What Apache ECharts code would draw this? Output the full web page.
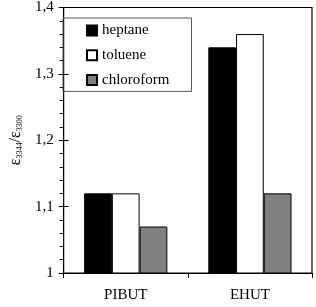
<!DOCTYPE html>
<html>
<head>
<meta charset="utf-8">
<script src="https://cdn.jsdelivr.net/npm/echarts@6/dist/echarts.min.js"></script>
<style>
  html, body { margin: 0; padding: 0; background: #fff; }
  #chart { width: 316px; height: 307px; }
</style>
</head>
<body>
<div id="chart"></div>
<script>
const categories = ['PIBUT', 'EHUT']
const heptane = [1.12, 1.34]
const toluene = [1.12, 1.36]
const chloroform = [1.07, 1.12]
const seriesNames = ['heptane', 'toluene', 'chloroform']
const yTicks = { min: 1, max: 1.4, interval: 0.1 }

const FONT = 'Liberation Serif'

const chart = echarts.init(document.getElementById('chart'))

function barSeries(name, data, fill) {
  return {
    name,
    type: 'bar',
    data,
    barGap: '0%',
    barCategoryGap: '33%',
    itemStyle: { color: fill, borderColor: '#000', borderWidth: 1 },
  }
}

chart.setOption({
  animation: false,
  grid: {
    left: 52, right: 4, top: 7, bottom: 34,
    show: true, borderColor: '#000', borderWidth: 1.2, backgroundColor: 'transparent',
  },
  legend: {
    orient: 'vertical',
    left: 63, top: 18,
    padding: [5, 22, 4, 23],
    borderColor: '#555', borderWidth: 1,
    itemWidth: 10, itemHeight: 10, itemGap: 9.7,
    textStyle: { fontFamily: FONT, fontSize: 15, color: '#000' },
    data: seriesNames.map((n) => ({ name: n, icon: 'rect' })),
  },
  xAxis: {
    type: 'category',
    data: categories,
    axisLine: { lineStyle: { color: '#000', width: 1 } },
    axisTick: { show: true, length: 5, lineStyle: { color: '#000' } },
    axisLabel: { color: '#000', fontSize: 15, fontFamily: FONT, margin: 15 },
  },
  yAxis: [
    {
      type: 'value',
      min: yTicks.min, max: yTicks.max, interval: yTicks.interval,
      name: '{e|ε}{s|3344}{e|/ε}{s|3300}',
      nameLocation: 'middle',
      nameRotate: 90,
      nameGap: 31,
      nameTextStyle: {
        color: '#000',
        rich: {
          e: { fontSize: 16, fontFamily: FONT, color: '#000', verticalAlign: 'bottom', lineHeight: 16 },
          s: { fontSize: 8, fontFamily: FONT, color: '#000', verticalAlign: 'bottom', lineHeight: 14 },
        },
      },
      axisLine: { show: true, lineStyle: { color: '#000', width: 1 } },
      axisTick: { show: true, length: 5, lineStyle: { color: '#000' } },
      minorTick: { show: true, splitNumber: 5, length: 4, lineStyle: { color: '#000' } },
      splitLine: { show: false },
      axisLabel: {
        color: '#000', fontSize: 15, fontFamily: FONT, margin: 10,
        formatter: (v) => String(Math.round(v * 10) / 10).replace('.', ','),
      },
    },
    {
      // inward half of the major ticks
      type: 'value',
      position: 'left',
      min: yTicks.min, max: yTicks.max, interval: yTicks.interval,
      axisLine: { show: false },
      axisTick: { show: true, inside: true, length: 5, lineStyle: { color: '#000' } },
      axisLabel: { show: false },
      splitLine: { show: false },
    },
  ],
  series: [
    barSeries(seriesNames[0], heptane, '#000'),
    barSeries(seriesNames[1], toluene, '#fff'),
    barSeries(seriesNames[2], chloroform, '#808080'),
  ],
})
</script>
</body>
</html>
